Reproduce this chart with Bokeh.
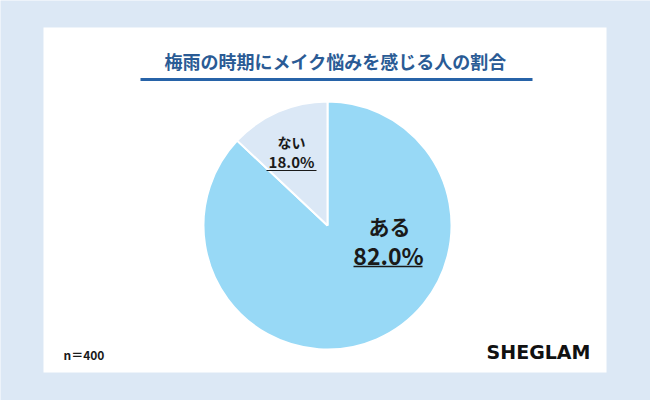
from bokeh.plotting import figure
from bokeh.models import Range1d
from bokeh.core.properties import value
from bokeh.embed import file_html
from bokeh.resources import INLINE
import math

# ---- data ----
categories = ["ある", "ない"]
shares = [82.0, 18.0]                 # values printed on the chart
slice_shares = [87.0, 13.0]           # slice sizes as drawn in the picture
pct_labels = ["82.0%", "18.0%"]
slice_colors = ["#98d9f6", "#dbe8f6"]
title_text = "梅雨の時期にメイク悩みを感じる人の割合"
note_text = "n＝400"
brand_text = "SHEGLAM"

W, H = 650, 400
BG = "#dce8f5"
JP = "Noto Sans CJK JP"

def X(px):
    return px

def Y(py):
    return H - py

p = figure(width=W, height=H, output_backend="svg", toolbar_location=None,
           x_range=Range1d(0, W), y_range=Range1d(0, H), min_border=0)
p.axis.visible = False
p.grid.visible = False
p.outline_line_color = None
p.background_fill_color = BG
p.border_fill_color = BG

# white panel
p.quad(left=X(43), right=X(606), top=Y(27), bottom=Y(372),
       fill_color="white", line_color=None)

# title and rule
p.text(x=[X(335)], y=[Y(60)], text=[title_text], text_font=value(JP),
       text_font_style="bold", text_font_size="18px", text_color="#2a5b95",
       text_align="center", text_baseline="middle")
p.segment(x0=[X(140)], x1=[X(532)], y0=[Y(79)], y1=[Y(79)],
          line_color="#2763a8", line_width=3)

# pie: start at 12 o'clock; first slice clockwise, second anticlockwise
cx, cy, r = X(327), Y(225), 124
total = sum(slice_shares)
a0 = math.pi / 2
big = slice_shares[0] / total * 2 * math.pi
small = slice_shares[1] / total * 2 * math.pi
starts = [a0 - big, a0]
ends = [a0, a0 + small]
p.wedge(x=[cx, cx], y=[cy, cy], radius=r, start_angle=starts, end_angle=ends,
        fill_color=slice_colors, line_color="white", line_width=2)

# labels
p.text(x=[X(389)], y=[Y(225)], text=[categories[0]], text_font=value(JP),
       text_font_style="bold", text_font_size="21px", text_color="#1a1a1a",
       text_align="center", text_baseline="middle")
p.text(x=[X(388)], y=[Y(254)], text=[pct_labels[0]], text_font=value(JP),
       text_font_style="bold", text_font_size="23px", text_color="#1a1a1a",
       text_align="center", text_baseline="middle")
p.segment(x0=[X(353)], x1=[X(422)], y0=[Y(266)], y1=[Y(266)],
          line_color="#1a1a1a", line_width=1.5)

p.text(x=[X(291)], y=[Y(141)], text=[categories[1]], text_font=value(JP),
       text_font_style="bold", text_font_size="14px", text_color="#1a1a1a",
       text_align="center", text_baseline="middle")
p.text(x=[X(291)], y=[Y(161)], text=[pct_labels[1]], text_font=value(JP),
       text_font_style="bold", text_font_size="15px", text_color="#1a1a1a",
       text_align="center", text_baseline="middle")
p.segment(x0=[X(266)], x1=[X(316)], y0=[Y(170)], y1=[Y(170)],
          line_color="#1a1a1a", line_width=1.2)

# footnote and brand
p.text(x=[X(63)], y=[Y(354)], text=[note_text], text_font=value(JP),
       text_font_style="bold", text_font_size="12px", text_color="#1a1a1a",
       text_align="left", text_baseline="middle")
p.text(x=[X(538)], y=[Y(351)], text=[brand_text], text_font=value("DejaVu Sans"),
       text_font_style="bold", text_font_size="19px", text_color="#111111",
       text_align="center", text_baseline="middle")

html = file_html(p, INLINE)
html = html.replace("<body>", '<body style="background:%s">' % BG, 1)
open("out.html", "w").write(html)
